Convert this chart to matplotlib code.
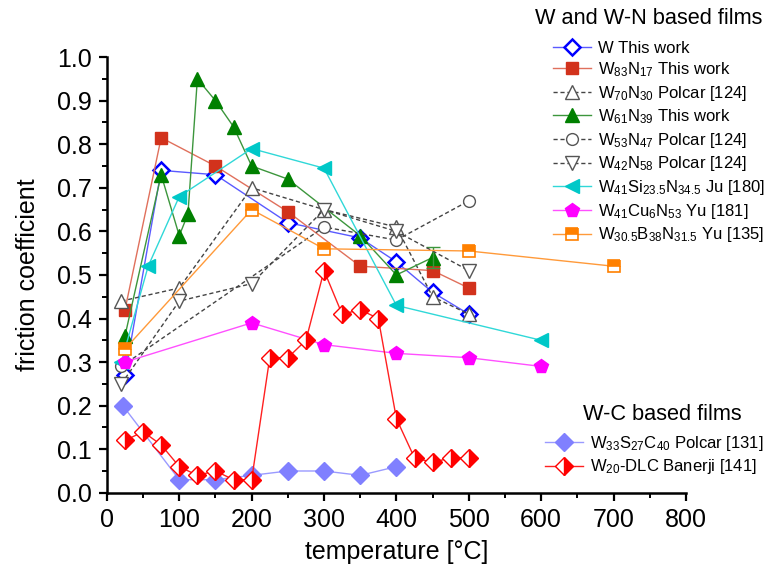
import matplotlib
matplotlib.use('Agg')
import matplotlib.pyplot as plt
from matplotlib.ticker import MultipleLocator

plt.rcParams['font.family'] = ['Liberation Sans', 'DejaVu Sans']
plt.rcParams['mathtext.default'] = 'regular'

# ---------------- data ----------------
w_x = [25, 75, 150, 250, 350, 400, 450, 500]
w_y = [0.27, 0.74, 0.73, 0.62, 0.585, 0.53, 0.46, 0.41]

w83_x = [25, 75, 150, 250, 350, 450, 500]
w83_y = [0.42, 0.815, 0.75, 0.645, 0.52, 0.51, 0.47]

w70_x = [20, 100, 200, 300, 400, 450, 500]
w70_y = [0.44, 0.47, 0.70, 0.65, 0.61, 0.45, 0.41]

w61_x = [25, 75, 100, 112, 125, 150, 175, 200, 250, 350, 400, 450]
w61_y = [0.36, 0.73, 0.59, 0.64, 0.95, 0.90, 0.84, 0.75, 0.72, 0.59, 0.50, 0.54]
w61_err_x = [450]
w61_err_y = [0.54]
w61_err = [0.025]

w53_x = [20, 300, 400, 500]
w53_y = [0.29, 0.61, 0.58, 0.67]

w42_x = [20, 100, 200, 300, 400, 500]
w42_y = [0.25, 0.44, 0.48, 0.65, 0.60, 0.51]

wsi_x = [20, 57, 100, 200, 300, 400, 600]
wsi_y = [0.30, 0.52, 0.68, 0.79, 0.745, 0.43, 0.35]

wcu_x = [25, 200, 300, 400, 500, 600]
wcu_y = [0.30, 0.39, 0.34, 0.32, 0.31, 0.29]

wb_x = [25, 200, 300, 500, 700]
wb_y = [0.33, 0.65, 0.56, 0.555, 0.52]

wsc_x = [22, 100, 150, 200, 250, 300, 350, 400]
wsc_y = [0.20, 0.03, 0.03, 0.04, 0.05, 0.05, 0.04, 0.06]

dlc_x = [25, 50, 75, 100, 125, 150, 175, 200, 225, 250,
         275, 300, 325, 350, 375, 400, 425, 450, 475, 500]
dlc_y = [0.12, 0.14, 0.11, 0.06, 0.04, 0.05, 0.03, 0.03, 0.31, 0.31,
         0.35, 0.51, 0.41, 0.42, 0.40, 0.17, 0.08, 0.07, 0.08, 0.08]

labels_wn = [
    'W This work',
    r'W$_{83}$N$_{17}$ This work',
    r'W$_{70}$N$_{30}$ Polcar [124]',
    r'W$_{61}$N$_{39}$ This work',
    r'W$_{53}$N$_{47}$ Polcar [124]',
    r'W$_{42}$N$_{58}$ Polcar [124]',
    r'W$_{41}$Si$_{23.5}$N$_{34.5}$ Ju [180]',
    r'W$_{41}$Cu$_{6}$N$_{53}$ Yu [181]',
    r'W$_{30.5}$B$_{38}$N$_{31.5}$ Yu [135]',
]
labels_wc = [
    r'W$_{33}$S$_{27}$C$_{40}$ Polcar [131]',
    r'W$_{20}$-DLC Banerji [141]',
]
title_wn = 'W and W-N based films'
title_wc = 'W-C based films'

# ---------------- figure ----------------
fig = plt.figure(figsize=(7.69, 5.71), dpi=100)
ax = fig.add_axes([0.139, 0.137, 0.753, 0.763])

lw = 1.0
h = []
h.append(ax.plot(w_x, w_y, '-', color='#5a5aff', lw=lw, marker='D', ms=8,
                 mfc='white', mec='#0000ff', mew=1.8)[0])
h.append(ax.plot(w83_x, w83_y, '-', color='#e0705c', lw=lw, marker='s', ms=8.5,
                 mfc='#d2321c', mec='#d2321c')[0])
h.append(ax.plot(w70_x, w70_y, '--', color='#444444', lw=lw, marker='^', ms=10,
                 mfc='white', mec='#555555', mew=1.0, dashes=(3, 2))[0])
h.append(ax.plot(w61_x, w61_y, '-', color='#3c963c', lw=lw, marker='^', ms=10,
                 mfc='#008000', mec='#008000')[0])
ax.errorbar(w61_err_x, w61_err_y, yerr=w61_err, fmt='none', ecolor='#3c963c',
            elinewidth=1, capsize=5)
h.append(ax.plot(w53_x, w53_y, '--', color='#444444', lw=lw, marker='o', ms=8.5,
                 mfc='white', mec='#555555', mew=1.0, dashes=(3, 2))[0])
h.append(ax.plot(w42_x, w42_y, '--', color='#444444', lw=lw, marker='v', ms=10,
                 mfc='white', mec='#555555', mew=1.0, dashes=(3, 2))[0])
h.append(ax.plot(wsi_x, wsi_y, '-', color='#30d8d8', lw=lw, marker='<', ms=10,
                 mfc='#00c8c8', mec='#00c8c8')[0])
h.append(ax.plot(wcu_x, wcu_y, '-', color='#ff50ff', lw=lw, marker='p', ms=10,
                 mfc='#ff00ff', mec='#ff00ff')[0])
h.append(ax.plot(wb_x, wb_y, '-', color='#ff9a3a', lw=lw, marker='s', ms=8,
                 mfc='#ff8000', mfcalt='white', fillstyle='top', mec='#ff8000',
                 mew=1.2)[0])

h2 = []
h2.append(ax.plot(wsc_x, wsc_y, '-', color='#9a9aff', lw=lw, marker='D', ms=9,
                  mfc='#8080ff', mec='#8080ff')[0])
h2.append(ax.plot(dlc_x, dlc_y, '-', color='#ff2020', lw=lw, marker='D', ms=9,
                  mfc='#ff0000', mfcalt='white', fillstyle='right', mec='#ff0000',
                  mew=1.0)[0])

ax.set_xlim(0, 800)
ax.set_ylim(0, 1.0)
ax.xaxis.set_major_locator(MultipleLocator(100))
ax.xaxis.set_minor_locator(MultipleLocator(50))
ax.yaxis.set_major_locator(MultipleLocator(0.1))
ax.yaxis.set_minor_locator(MultipleLocator(0.05))
ax.yaxis.set_major_formatter(plt.FormatStrFormatter('%.1f'))

for s in ['top', 'right']:
    ax.spines[s].set_visible(False)
for s in ['left', 'bottom']:
    ax.spines[s].set_linewidth(1.8)

ax.tick_params(which='major', direction='out', length=6, width=1.6,
               labelsize=18, pad=5)
ax.tick_params(which='minor', direction='out', length=3.5, width=1.4)

ax.set_xlabel('temperature [°C]', fontsize=18, labelpad=6)
ax.set_ylabel('friction coefficient', fontsize=18, labelpad=12)

# legend titles as separate text
fig.text(0.844, 1 - 18 / 571, title_wn, fontsize=15.7, ha='center', va='center')
fig.text(0.861, 1 - 415 / 571, title_wc, fontsize=15.7, ha='center', va='center')

leg1 = fig.legend(h, labels_wn, loc='center left',
                  bbox_to_anchor=(553 / 769, 1 - 142.5 / 571),
                  frameon=False, fontsize=12, labelspacing=0.28,
                  handlelength=2.3, handletextpad=0.4, borderpad=0.0,
                  borderaxespad=0.0)
leg2 = fig.legend(h2, labels_wc, loc='center left',
                  bbox_to_anchor=(545 / 769, 1 - 455 / 571),
                  frameon=False, fontsize=12, labelspacing=0.28,
                  handlelength=2.3, handletextpad=0.4, borderpad=0.0,
                  borderaxespad=0.0)

fig.savefig('out.png', dpi=100)
